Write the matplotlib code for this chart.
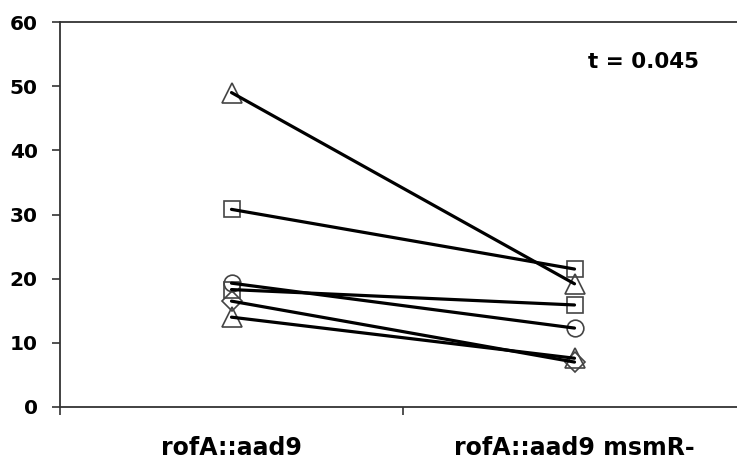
import matplotlib.pyplot as plt

# Paired measurements (left strain -> right strain), one per series
groups = ['rofA::aad9', 'rofA::aad9 msmR-']
before = [49.0, 30.8, 19.3, 18.3, 16.5, 14.0]
after = [19.2, 21.5, 12.3, 15.9, 7.0, 7.6]
markers = ['^', 's', 'o', 's', 'D', '^']
msizes = [14, 12, 12, 12, 10, 14]
yticks = [0, 10, 20, 30, 40, 50, 60]
t_label = 't = 0.045'

plt.rcParams['font.family'] = 'DejaVu Sans'
plt.rcParams['font.weight'] = 'bold'

fig = plt.figure(figsize=(7.37, 4.63), dpi=100)
ax = fig.add_axes([60 / 737, 56 / 463, 686 / 737, 385 / 463])

xs = [0.5, 1.5]
for b, a, m, s in zip(before, after, markers, msizes):
    ax.plot(xs, [b, a], color='black', lw=2.3, zorder=3,
            solid_capstyle='round')
    ax.plot(xs, [b, a], linestyle='none', marker=m, ms=s,
            mfc='none', mec='#444444', mew=1.2, zorder=2)

ax.set_xlim(0, 2)
ax.set_ylim(0, 60)
ax.set_yticks(yticks)
ax.set_xticks([0, 1, 2])
ax.set_xticklabels([])
ax.set_xticks(xs, minor=True)
ax.set_xticklabels(groups, minor=True, fontsize=17, fontweight='bold')
ax.tick_params(axis='x', which='minor', length=0, pad=21)
ax.tick_params(axis='x', which='major', direction='out', length=6,
               width=1.2, color='#333333')
ax.tick_params(axis='y', direction='out', length=6, width=1.2,
               color='#333333', labelsize=14.5, pad=10)
for lbl in ax.get_yticklabels():
    lbl.set_fontweight('bold')

for sp in ax.spines.values():
    sp.set_linewidth(1.3)
    sp.set_color('#333333')

ax.text(1.70, 53.7, t_label, ha='center', va='center',
        fontsize=15.5, fontweight='bold')

fig.savefig('out.png', dpi=100)
